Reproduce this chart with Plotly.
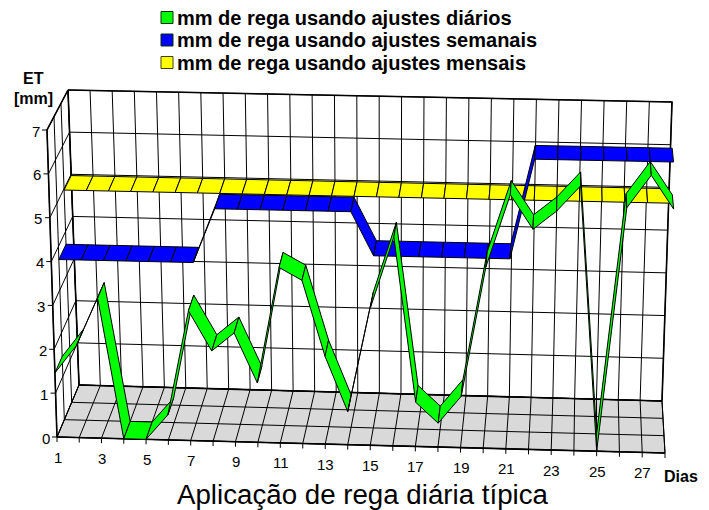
import plotly.graph_objects as go

# ---- data ----
days = list(range(1, 29))
day_labels = [1, 3, 5, 7, 9, 11, 13, 15, 17, 19, 21, 23, 25, 27]
et_ticks = [0, 1, 2, 3, 4, 5, 6, 7]
diarios = [1.46, 2.10, 3.19, 0.00, 0.00, 0.57, 2.95, 2.05, 2.47, 1.35, 3.98, 3.70, 1.99, 0.75,
           3.13, 4.73, 1.00, 0.54, 1.16, 4.10, 5.74, 4.97, 5.39, 5.97, 0.00, 5.50, 6.24, 5.49]
semanais = [3.70] * 7 + [4.95] * 7 + [3.95] * 7 + [6.24] * 7
mensais = [4.97] * 28
names = ["mm de rega usando ajustes diários",
         "mm de rega usando ajustes semanais",
         "mm de rega usando ajustes mensais"]
colors = ["#00ff00", "#0000ff", "#ffff00"]
title_text = "Aplicação de rega diária típica"

# ---- oblique 3D scale: (day, depth 0..1, value) -> page pixels ----
DAY0, DAY1, VMAX = 1, 28, 7
BOW = 0.0133
C = {(0, 0, 0): (57, 437), (1, 0, 0): (665, 453), (0, 1, 0): (79, 385), (1, 1, 0): (662, 401),
     (0, 0, 1): (47, 130), (1, 0, 1): (676, 142), (0, 1, 1): (68, 90), (1, 1, 1): (672, 102)}


def P(day, depth, val):
    u = (day - DAY0) / (DAY1 - DAY0)
    u = u - BOW * u * (1 - u)
    w = val / VMAX
    x = y = 0.0
    for (a, b, c), (px, py) in C.items():
        k = (u if a else 1 - u) * (depth if b else 1 - depth) * (w if c else 1 - w)
        x += k * px
        y += k * py
    return x, y


fig = go.Figure()


def polyline(segments, width=1, color="#000000"):
    xs, ys = [], []
    for seg in segments:
        for p in seg:
            xs.append(p[0])
            ys.append(p[1])
        xs.append(None)
        ys.append(None)
    fig.add_trace(go.Scatter(x=xs, y=ys, mode="lines", line=dict(color=color, width=width),
                             hoverinfo="skip", showlegend=False))


def polygon(pts, fill, name=None):
    xs = [p[0] for p in pts] + [pts[0][0]]
    ys = [p[1] for p in pts] + [pts[0][1]]
    fig.add_trace(go.Scatter(x=xs, y=ys, mode="lines", fill="toself", fillcolor=fill,
                             line=dict(color="#000000", width=1), hoverinfo="skip",
                             showlegend=False, name=name))


# floor
polygon([P(DAY0, 0, 0), P(DAY1, 0, 0), P(DAY1, 1, 0), P(DAY0, 1, 0)], "#d9d9d9")
depths = [0, 1 / 3, 2 / 3, 1]
# floor, back wall and side wall grid
grid = []
for d in days:
    grid.append([P(d, 0, 0), P(d, 1, 0), P(d, 1, VMAX)])
for v in et_ticks:
    grid.append([P(DAY0, 0, v), P(DAY0, 1, v), P(DAY1, 1, v)])
for dp in depths:
    grid.append([P(DAY0, dp, VMAX), P(DAY0, dp, 0), P(DAY1, dp, 0)])
polyline(grid, 1)
polyline([[P(DAY0, 0, 0), P(DAY1, 0, 0)], [P(DAY0, 1, 0), P(DAY1, 1, 0)],
          [P(DAY0, 0, 0), P(DAY0, 0, VMAX), P(DAY0, 1, VMAX), P(DAY0, 1, 0)],
          [P(DAY0, 1, VMAX), P(DAY1, 1, VMAX), P(DAY1, 1, 0)]], 1.6)

# ticks
ticks = []
for d in days:
    x, y = P(d, 0, 0)
    ticks.append([(x, y), (x, y + 5)])
for v in et_ticks:
    x, y = P(DAY0, 0, v)
    ticks.append([(x, y), (x - 5, y)])
polyline(ticks, 1)

# ribbons, back to front
series = [(mensais, 2, colors[2], names[2]), (semanais, 1, colors[1], names[1]), (diarios, 0, colors[0], names[0])]
for values, band, col, nm in series:
    d0, d1 = depths[band], depths[band + 1]
    for i in range(len(days) - 1):
        polygon([P(days[i], d0, values[i]), P(days[i + 1], d0, values[i + 1]),
                 P(days[i + 1], d1, values[i + 1]), P(days[i], d1, values[i])], col, nm)

ann = []
font_axis = dict(family="Liberation Sans", size=15, color="#000000")
font_bold = dict(family="Liberation Sans", size=16, color="#000000")
for d in day_labels:
    x, y = P(d, 0, 0)
    ann.append(dict(x=x + 0.5, y=y + 20, text=str(d), font=font_axis))
for v in et_ticks:
    x, y = P(DAY0, 0, v)
    ann.append(dict(x=x - 11.5, y=y + 1, text=str(v), font=font_axis))
ann.append(dict(x=33, y=78, text="<b>ET</b>", font=font_bold))
ann.append(dict(x=33, y=98, text="<b>[mm]</b>", font=font_bold))
ann.append(dict(x=681, y=476, text="<b>Dias</b>", font=font_bold))
ann.append(dict(x=362.5, y=494.5, text=title_text,
                font=dict(family="Liberation Sans", size=27.7, color="#000000")))

shapes = []
for nm, col, yc in zip(names, colors, [17.5, 40, 62.5]):
    ann.append(dict(x=175, y=yc, text=f"<b>{nm}</b>", xanchor="left",
                    font=dict(family="Liberation Sans", size=20, color="#000000")))
    shapes.append(dict(type="rect", xref="x", yref="y", x0=161, x1=173, y0=yc - 6, y1=yc + 6,
                       fillcolor=col, line=dict(color="#404000" if col == "#ffff00" else "#003000", width=1)))
for a in ann:
    a.setdefault("xanchor", "center")
    a.update(yanchor="middle", showarrow=False, xref="x", yref="y")

fig.update_layout(
    width=709, height=510, margin=dict(l=0, r=0, t=0, b=0),
    paper_bgcolor="#ffffff", plot_bgcolor="#ffffff", showlegend=False,
    xaxis=dict(range=[0, 709], visible=False, fixedrange=True),
    yaxis=dict(range=[510, 0], visible=False, fixedrange=True),
    annotations=ann, shapes=shapes,
)
fig.write_html("out.html", config={"displayModeBar": False},
               post_script="document.body.style.margin='0';")
